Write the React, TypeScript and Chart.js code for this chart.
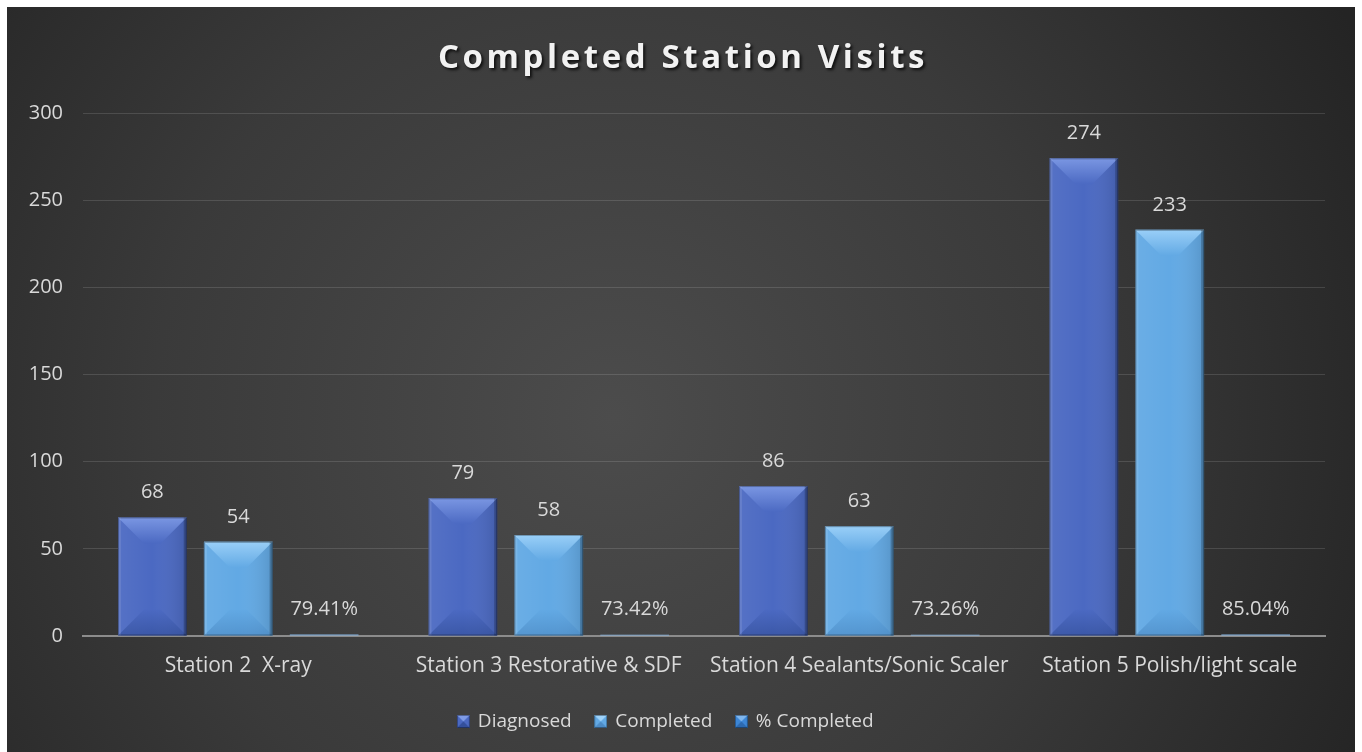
import React, { useEffect, useRef } from "react";
import { Chart, registerables } from "chart.js";
Chart.register(...registerables);

const categories = [
  "Station 2  X-ray",
  "Station 3 Restorative & SDF",
  "Station 4 Sealants/Sonic Scaler",
  "Station 5 Polish/light scale",
];
const seriesNames = ["Diagnosed", "Completed", "% Completed"];
const diagnosed = [68, 79, 86, 274];
const completed = [54, 58, 63, 233];
const pctCompleted = [0.7941, 0.7342, 0.7326, 0.8504];
const yMin = 0;
const yMax = 300;
const yStep = 50;
const titleText = "Completed Station Visits";

const FONT = "'Open Sans', 'DejaVu Sans', sans-serif";
const TEXT = "#d9d9d9";

const palette = [
  { base: "#4b69c2", light: "#7f9be6", dark: "#34509c" },
  { base: "#62a9e4", light: "#9fd3fa", dark: "#4d8cc6" },
  { base: "#3c86d6", light: "#7fb6ee", dark: "#2d6ab0" },
];

function makeIcon(c: { base: string; light: string; dark: string }) {
  const s = 13;
  const cv = document.createElement("canvas");
  cv.width = s;
  cv.height = s;
  const g = cv.getContext("2d")!;
  g.fillStyle = c.base;
  g.fillRect(0, 0, s, s);
  g.fillStyle = c.light;
  g.beginPath();
  g.moveTo(0, 0);
  g.lineTo(s, 0);
  g.lineTo(s / 2, s / 2);
  g.closePath();
  g.fill();
  g.fillStyle = c.dark;
  g.beginPath();
  g.moveTo(0, s);
  g.lineTo(s, s);
  g.lineTo(s / 2, s / 2);
  g.closePath();
  g.fill();
  g.strokeStyle = "rgba(0,0,0,0.35)";
  g.strokeRect(0.5, 0.5, s - 1, s - 1);
  return cv;
}

const backgroundPlugin = {
  id: "bgPlugin",
  beforeDraw(chart: any) {
    const { ctx, width, height } = chart;
    ctx.save();
    const gr = ctx.createRadialGradient(width * 0.45, height * 0.55, 0, width * 0.45, height * 0.55, width * 0.62);
    gr.addColorStop(0, "#4c4c4c");
    gr.addColorStop(0.55, "#3a3a3a");
    gr.addColorStop(1, "#242424");
    ctx.fillStyle = gr;
    ctx.fillRect(0, 0, width, height);
    ctx.restore();
  },
};

const bevelPlugin = {
  id: "bevelPlugin",
  afterDatasetDraw(chart: any, args: any) {
    const ctx = chart.ctx;
    const meta = args.meta;
    const c = palette[args.index];
    meta.data.forEach((bar: any) => {
      const { x, y, base, width } = bar.getProps(["x", "y", "base", "width"], true);
      const l = x - width / 2;
      const r = x + width / 2;
      const h = base - y;
      if (h < 6) return;
      const d = Math.min(26, width * 0.4, h / 2.2);
      ctx.save();
      const fg = ctx.createLinearGradient(l, 0, r, 0);
      fg.addColorStop(0, "rgba(255,255,255,0.06)");
      fg.addColorStop(0.5, "rgba(255,255,255,0)");
      fg.addColorStop(1, "rgba(0,0,0,0.12)");
      ctx.fillStyle = fg;
      ctx.fillRect(l, y, width, h);
      const tg = ctx.createLinearGradient(0, y, 0, y + d);
      tg.addColorStop(0, c.light);
      tg.addColorStop(1, c.base);
      ctx.fillStyle = tg;
      ctx.globalAlpha = 0.9;
      ctx.beginPath();
      ctx.moveTo(l, y);
      ctx.lineTo(r, y);
      ctx.lineTo(r - d, y + d);
      ctx.lineTo(l + d, y + d);
      ctx.closePath();
      ctx.fill();
      const bg = ctx.createLinearGradient(0, base - d, 0, base);
      bg.addColorStop(0, c.base);
      bg.addColorStop(1, c.dark);
      ctx.fillStyle = bg;
      ctx.globalAlpha = 0.7;
      ctx.beginPath();
      ctx.moveTo(l, base);
      ctx.lineTo(r, base);
      ctx.lineTo(r - d, base - d);
      ctx.lineTo(l + d, base - d);
      ctx.closePath();
      ctx.fill();
      ctx.globalAlpha = 1;
      ctx.fillStyle = "rgba(255,255,255,0.10)";
      ctx.fillRect(l, y, 3, h);
      ctx.fillStyle = "rgba(0,0,0,0.22)";
      ctx.fillRect(r - 3, y, 3, h);
      ctx.strokeStyle = "rgba(0,0,0,0.3)";
      ctx.lineWidth = 1;
      ctx.strokeRect(l + 0.5, y + 0.5, width - 1, h - 1);
      ctx.restore();
    });
  },
};

const labelPlugin = {
  id: "labelPlugin",
  afterDatasetsDraw(chart: any) {
    const ctx = chart.ctx;
    ctx.save();
    ctx.font = `20px ${FONT}`;
    ctx.fillStyle = TEXT;
    ctx.textAlign = "center";
    ctx.textBaseline = "middle";
    chart.data.datasets.forEach((ds: any, di: number) => {
      const meta = chart.getDatasetMeta(di);
      meta.data.forEach((bar: any, i: number) => {
        const v = ds.data[i];
        const txt = di === 2 ? (v * 100).toFixed(2) + "%" : String(v);
        ctx.fillText(txt, bar.x, bar.y - 25);
      });
    });
    ctx.restore();
  },
};

const titlePlugin = {
  id: "titlePlugin",
  afterDraw(chart: any) {
    const ctx = chart.ctx;
    ctx.save();
    ctx.font = `bold 33px ${FONT}`;
    (ctx as any).letterSpacing = "3.6px";
    ctx.textAlign = "center";
    ctx.textBaseline = "middle";
    ctx.shadowColor = "rgba(0,0,0,0.75)";
    ctx.shadowBlur = 3;
    ctx.shadowOffsetX = 2;
    ctx.shadowOffsetY = 2;
    ctx.fillStyle = "#f2f2f2";
    ctx.fillText(titleText, chart.width / 2 + 2, 52);
    ctx.restore();
  },
};

export default function App() {
  const ref = useRef<HTMLCanvasElement>(null);
  useEffect(() => {
    if (!ref.current) return;
    const icons = palette.map(makeIcon);
    const chart = new Chart(ref.current, {
      type: "bar",
      data: {
        labels: categories,
        datasets: [
          { label: seriesNames[0], data: diagnosed, backgroundColor: palette[0].base },
          { label: seriesNames[1], data: completed, backgroundColor: palette[1].base },
          { label: seriesNames[2], data: pctCompleted, backgroundColor: "#86b6e6" },
        ],
      },
      options: {
        responsive: true,
        maintainAspectRatio: false,
        animation: false,
        datasets: { bar: { categoryPercentage: 0.83, barPercentage: 0.8 } },
        layout: { padding: { top: 106, right: 30, left: 0, bottom: 11 } },
        scales: {
          x: {
            grid: { display: false, drawTicks: false },
            border: { display: true, color: "#8c8c8c", width: 2 },
            ticks: { color: TEXT, font: { family: FONT, size: 21 }, padding: 17, maxRotation: 0, autoSkip: false },
            afterFit: (s: any) => { s.height = 52; },
          },
          y: {
            min: yMin,
            max: yMax,
            ticks: { stepSize: yStep, color: TEXT, font: { family: FONT, size: 20 }, padding: 20 },
            grid: { color: "rgba(255,255,255,0.13)", drawTicks: false, lineWidth: 1 },
            border: { display: false },
            afterFit: (s: any) => { s.width = 76; },
          },
        },
        plugins: {
          title: { display: false },
          tooltip: { enabled: false },
          legend: {
            position: "bottom",
            labels: {
              color: TEXT,
              font: { family: FONT, size: 19 },
              usePointStyle: true,
              pointStyleWidth: 10,
              padding: 24,
              generateLabels: (ch: any) =>
                ch.data.datasets.map((ds: any, i: number) => ({
                  text: ds.label,
                  fillStyle: palette[i].base,
                  strokeStyle: palette[i].base,
                  lineWidth: 0,
                  pointStyle: icons[i],
                  hidden: false,
                  datasetIndex: i,
                  fontColor: TEXT,
                })),
            },
          },
        },
      },
      plugins: [backgroundPlugin, bevelPlugin, labelPlugin, titlePlugin],
    });
    return () => chart.destroy();
  }, []);
  return (
    <div style={{ position: "absolute", left: 7, top: 7, width: 1348, height: 745 }}>
      <canvas ref={ref} />
    </div>
  );
}
